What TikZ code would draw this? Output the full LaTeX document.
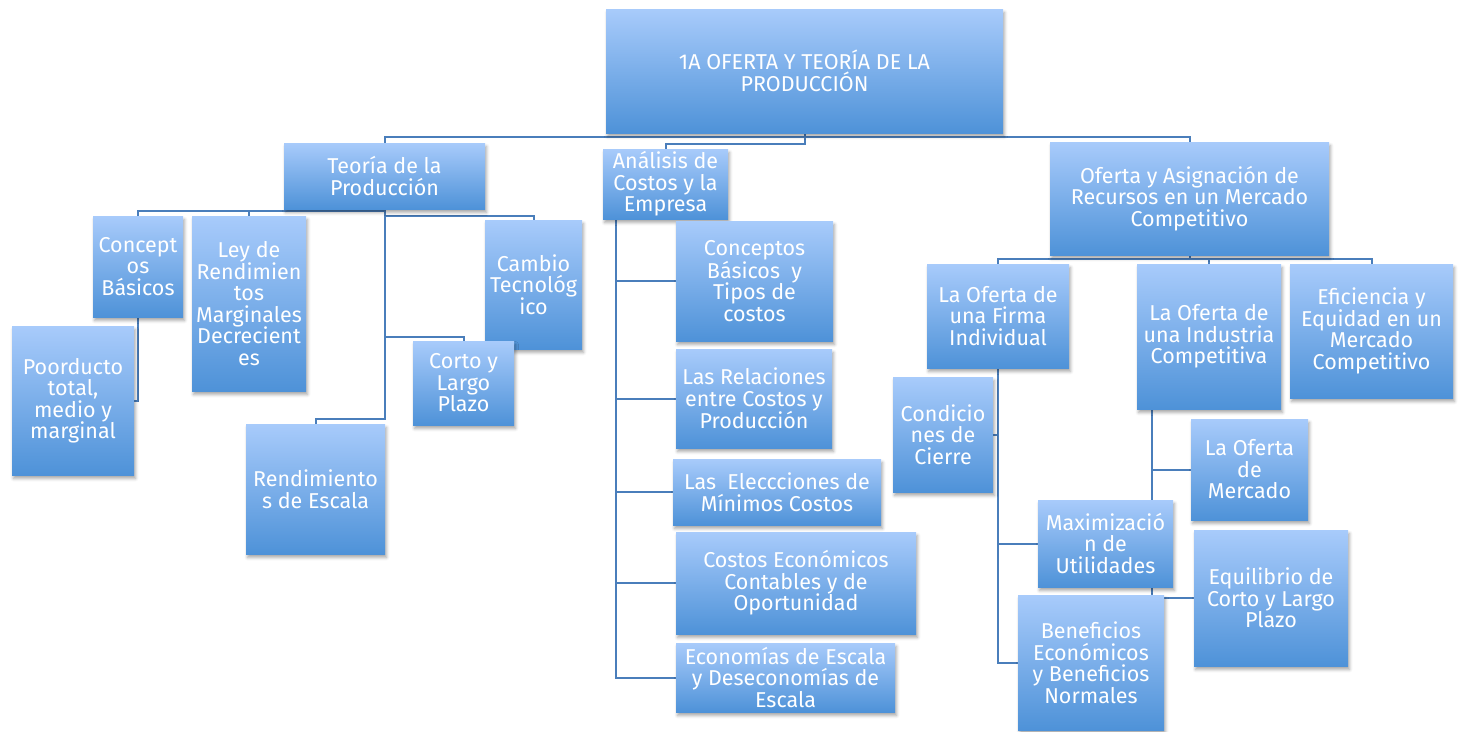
\documentclass[tikz,border=0pt]{standalone}
\usepackage{fontspec}
\setmainfont{Fira Sans}
\usetikzlibrary{shadows.blur}
\definecolor{cTop}{RGB}{168,203,251}
\definecolor{cBot}{RGB}{78,146,216}
\definecolor{cLine}{RGB}{74,126,187}
\pgfdeclarelayer{bg}
\pgfsetlayers{bg,main}
\tikzset{
  box/.style={rectangle, inner sep=0pt, outer sep=0pt, top color=cTop, bottom color=cBot,
    draw=none, text=white, align=center,
    font=\fontsize{21.5}{21.5}\selectfont,
    blur shadow={shadow xshift=1.5pt, shadow yshift=-3.5pt, shadow blur radius=3pt, shadow opacity=35}},
  conn/.style={draw=cLine, line width=2pt}
}
\newcommand\bx[6]{\node[box, minimum width={(#4-#2)*1pt}, minimum height={(#5-#3)*1pt}] (#1) at ({(#2+#4)/2},{(#3+#5)/2}) {#6};}
\begin{document}
\begin{tikzpicture}[x=1pt,y=-1pt]
\useasboundingbox (0,0) rectangle (1459,731);
% root
\bx{root}{606}{9}{1003}{133}{1A OFERTA Y TEORÍA DE LA\\PRODUCCIÓN}
% level 1
\bx{teoria}{284}{143}{485}{209}{Teoría de la\\Producción}
\bx{analisis}{603}{149}{728}{219}{Análisis de\\Costos y la\\Empresa}
\bx{oferta}{1050}{142}{1329}{255}{Oferta y Asignación de\\Recursos en un Mercado\\Competitivo}
% Teoria children
\bx{concept}{93}{216}{183}{317}{Concept\\os\\Básicos}
\bx{ley}{192}{216}{306}{391}{Ley de\\Rendimien\\tos\\Marginales\\Decrecient\\es}
\bx{cambio}{485}{220}{582}{349}{Cambio\\Tecnológ\\ico}
\bx{corto}{413}{341}{514}{425}{Corto y\\Largo\\Plazo}
\bx{rend}{246}{424}{385}{554}{Rendimiento\\s de Escala}
\bx{poor}{12}{326}{134}{475}{Poorducto\\total,\\medio y\\marginal}
% Analisis children
\bx{conc}{676}{221}{833}{341}{Conceptos\\Básicos\ \ y\\Tipos de\\costos}
\bx{rel}{676}{349}{832}{448}{Las Relaciones\\entre Costos y\\Producción}
\bx{elec}{673}{459}{881}{525}{Las\ \ Eleccciones de\\Mínimos Costos}
\bx{costos}{676}{532}{916}{634}{Costos Económicos\\Contables y de\\Oportunidad}
\bx{econ}{676}{643}{895}{712}{Economías de Escala\\y Deseconomías de\\Escala}
% Oferta children
\bx{firma}{927}{264}{1069}{368}{La Oferta de\\una Firma\\Individual}
\bx{industria}{1137}{264}{1281}{409}{La Oferta de\\una Industria\\Competitiva}
\bx{efic}{1290}{264}{1453}{398}{Eficiencia y\\Equidad en un\\Mercado\\Competitivo}
\bx{cond}{893}{377}{993}{492}{Condicio\\nes de\\Cierre}
\bx{max}{1038}{500}{1173}{587}{Maximizació\\n de\\Utilidades}
\bx{ben}{1018}{595}{1164}{730}{Beneficios\\Económicos\\y Beneficios\\Normales}
\bx{merc}{1191}{419}{1308}{520}{La Oferta\\de\\Mercado}
\bx{equil}{1194}{530}{1348}{666}{Equilibrio de\\Corto y Largo\\Plazo}
\begin{pgfonlayer}{bg}
% root
\draw[conn] (root.south) -- ++(0,4) -| (teoria.north);
\draw[conn] (root.south) -- ++(0,4) -| (oferta.north);
\draw[conn] (root.south) -- ++(0,11) -| (analisis.north);
% teoria
\draw[conn] (teoria.south) -- ++(0,2) -| (concept.north);
\draw[conn] (teoria.south) -- ++(0,2) -| (ley.north);
\draw[conn] (teoria.south) -- ++(0,7) -| (cambio.north);
\draw[conn] (teoria.south) -- ++(0,128) -| (corto.north);
\draw[conn] (teoria.south) -- ++(0,210) -| (rend.north);
\draw[conn] (concept.south) |- (poor.east);
% analisis
\coordinate (aTrunk) at ([xshift=13pt]analisis.south west);
\foreach \n in {conc,rel,elec,costos,econ} {\draw[conn] (aTrunk) |- (\n.west);}
% oferta
\draw[conn] (oferta.south) -- ++(0,4) -| (firma.north);
\draw[conn] (oferta.south) -- ++(0,4) -| (industria.north);
\draw[conn] (oferta.south) -- ++(0,4) -| (efic.north);
\draw[conn] (firma.south) |- (cond.east);
\draw[conn] (firma.south) |- (max.west);
\draw[conn] (firma.south) |- (ben.west);
\coordinate (iTrunk) at ([xshift=15pt]industria.south west);
\draw[conn] (iTrunk) |- (merc.west);
\draw[conn] (iTrunk) |- (equil.west);
\end{pgfonlayer}
\end{tikzpicture}
\end{document}
